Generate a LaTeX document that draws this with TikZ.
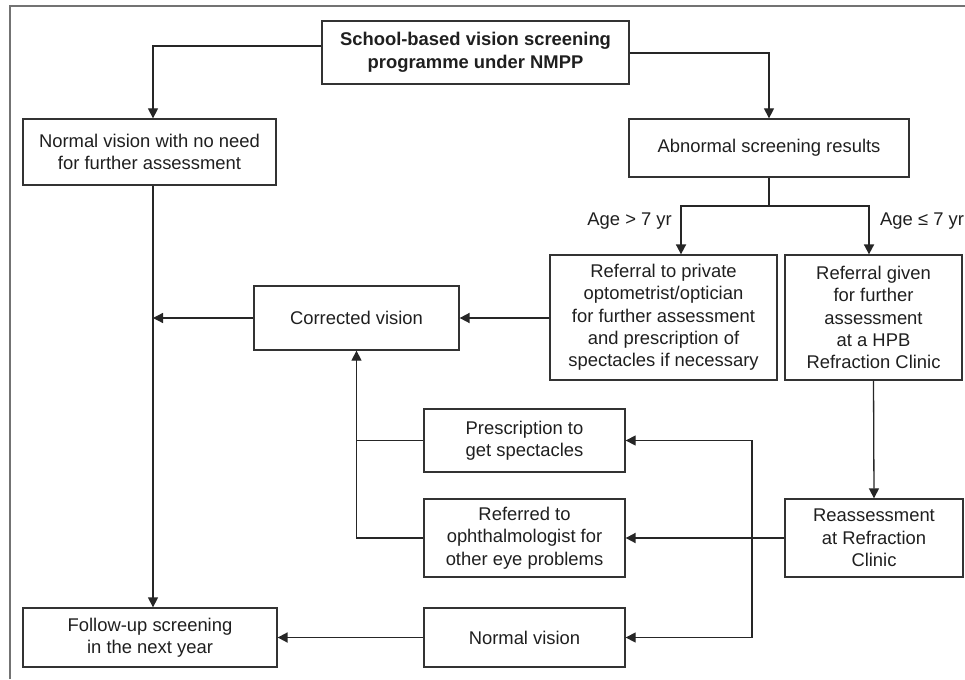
\documentclass[tikz,border=0pt]{standalone}
\usepackage{fontspec}
\setmainfont{Liberation Sans}
\usetikzlibrary{arrows.meta}
\begin{document}
\begin{tikzpicture}[x=1pt,y=-1pt,
  box/.style={draw=black!80,line width=1.3pt,align=center,inner sep=0pt,
    text=black!88,font=\fontsize{18.4}{22.3}\selectfont},
  conn/.style={draw=black!85,line width=1.3pt},
  arr/.style={conn,-{Triangle[length=10pt,width=10pt]}},
  tarr/.style={arr,line width=1.8pt},
  lbl/.style={inner sep=0pt,text=black!88,font=\fontsize{18.4}{22.3}\selectfont}]
\useasboundingbox (0,0) rectangle (965,679);
% frame
\draw[black!55,line width=1.2pt] (10,679) -- (10,6) -- (965,6);
% boxes
\node[box,minimum width=307pt,minimum height=63pt,font=\bfseries\fontsize{18.4}{23}\selectfont] (top) at (475.5,52.5) {School-based vision screening\\programme under NMPP};
\node[box,minimum width=253pt,minimum height=66pt] (nv) at (149.5,152) {Normal vision with no need\\for further assessment};
\node[box,minimum width=280pt,minimum height=58pt] (ab) at (769,148) {Abnormal screening results};
\node[box,minimum width=227pt,minimum height=125pt] (rp) at (663.5,317.5) {Referral to private\\optometrist/optician\\for further assessment\\and prescription of\\spectacles if necessary};
\node[box,minimum width=177pt,minimum height=125pt] (rg) at (873.5,317.5) {Referral given\\for further\\assessment\\at a HPB\\Refraction Clinic};
\node[box,minimum width=205pt,minimum height=64pt] (cv) at (356.5,318) {Corrected vision};
\node[box,minimum width=201pt,minimum height=63pt] (ps) at (524.5,440.5) {Prescription to\\get spectacles};
\node[box,minimum width=201pt,minimum height=78pt] (op) at (524.5,538) {Referred to\\ophthalmologist for\\other eye problems};
\node[box,minimum width=178pt,minimum height=78pt] (re) at (874,538) {Reassessment\\at Refraction\\Clinic};
\node[box,minimum width=201pt,minimum height=59pt] (nb) at (524.5,637.5) {Normal vision};
\node[box,minimum width=254pt,minimum height=59pt] (fu) at (150,637.5) {Follow-up screening\\in the next year};
% labels
\node[lbl,anchor=east] (l1) at (672,221) {Age > 7 yr};
\node[lbl,anchor=west] (l2) at (880,221) {Age ≤ 7 yr};
% coordinates
\coordinate (br) at (769,206);
\coordinate (lv) at (153,318);
\coordinate (j) at (752,538);
% connectors
\draw[arr] (top.west |- 0,46) -| (nv.north -| 153,0);
\draw[arr] (top.east |- 0,53) -| (ab.north);
\draw[conn] (ab.south) -- (br);
\draw[tarr] (br) -| (rp.north -| 681,0);
\draw[tarr] (br) -| (rg.north -| 869,0);
\draw[tarr] (rp.west |- cv.east) -- (cv.east);
\draw[arr] (cv.west) -- (lv);
\draw[arr] (nv.south -| 153,0) -- (fu.north -| 153,0);
\draw[arr] (rg.south) -- (re.north);
\draw[tarr] (re.west) -- (op.east);
\draw[arr] (j) |- (ps.east);
\draw[arr] (j) |- (nb.east);
\draw[conn] (ps.west) -- (ps.west -| cv.south);
\draw[arr] (op.west) -| (cv.south);
\draw[tarr] (nb.west) -- (fu.east);
\end{tikzpicture}
\end{document}
